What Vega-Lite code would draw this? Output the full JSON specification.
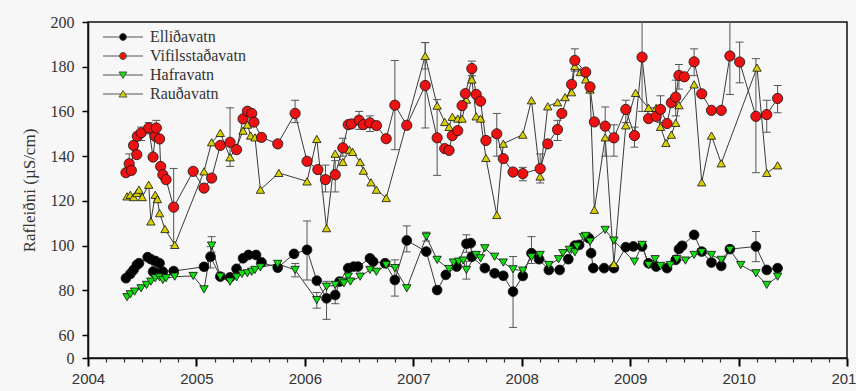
{
  "$schema": "https://vega.github.io/schema/vega-lite/v6.json",
  "width": 759,
  "height": 336,
  "autosize": {"type": "none"},
  "padding": {"left": 88, "top": 22, "right": 9, "bottom": 33},
  "background": "#f7f7f7",
  "config": {
    "view": {"stroke": "#111", "strokeWidth": 1.5},
    "axis": {"grid": false, "ticks": true, "domainColor": "#111", "domainWidth": 1.5, "tickColor": "#000", "tickWidth": 1.5, "tickOpacity": 1, "zindex": 1}
  },
  "datasets": {
    "main": [
      {"lake": "Elliðavatn", "t": 2004.35, "v": 85.4},
      {"lake": "Elliðavatn", "t": 2004.39, "v": 87.3},
      {"lake": "Elliðavatn", "t": 2004.42, "v": 89.1},
      {"lake": "Elliðavatn", "t": 2004.45, "v": 91.3},
      {"lake": "Elliðavatn", "t": 2004.47, "v": 92.1},
      {"lake": "Elliðavatn", "t": 2004.55, "v": 94.8},
      {"lake": "Elliðavatn", "t": 2004.58, "v": 93.9},
      {"lake": "Elliðavatn", "t": 2004.60, "v": 88.3},
      {"lake": "Elliðavatn", "t": 2004.62, "v": 93.1},
      {"lake": "Elliðavatn", "t": 2004.63, "v": 87.6},
      {"lake": "Elliðavatn", "t": 2004.66, "v": 92.1},
      {"lake": "Elliðavatn", "t": 2004.69, "v": 88.3},
      {"lake": "Elliðavatn", "t": 2004.79, "v": 88.6},
      {"lake": "Elliðavatn", "t": 2005.07, "v": 90.5},
      {"lake": "Elliðavatn", "t": 2005.13, "v": 95.0, "lo": 90, "hi": 99.5},
      {"lake": "Elliðavatn", "t": 2005.22, "v": 86.1},
      {"lake": "Elliðavatn", "t": 2005.31, "v": 85.8},
      {"lake": "Elliðavatn", "t": 2005.37, "v": 89.6},
      {"lake": "Elliðavatn", "t": 2005.43, "v": 94.3},
      {"lake": "Elliðavatn", "t": 2005.48, "v": 95.8},
      {"lake": "Elliðavatn", "t": 2005.55, "v": 95.8},
      {"lake": "Elliðavatn", "t": 2005.60, "v": 92.5},
      {"lake": "Elliðavatn", "t": 2005.75, "v": 90.1},
      {"lake": "Elliðavatn", "t": 2005.90, "v": 96.3},
      {"lake": "Elliðavatn", "t": 2006.02, "v": 98.1, "lo": 84.6, "hi": 111},
      {"lake": "Elliðavatn", "t": 2006.11, "v": 84.3},
      {"lake": "Elliðavatn", "t": 2006.20, "v": 76.4, "lo": 67, "hi": 84},
      {"lake": "Elliðavatn", "t": 2006.28, "v": 77.9, "lo": 74, "hi": 82},
      {"lake": "Elliðavatn", "t": 2006.32, "v": 83.9},
      {"lake": "Elliðavatn", "t": 2006.40, "v": 89.9},
      {"lake": "Elliðavatn", "t": 2006.45, "v": 90.6},
      {"lake": "Elliðavatn", "t": 2006.49, "v": 90.6},
      {"lake": "Elliðavatn", "t": 2006.60, "v": 94.3},
      {"lake": "Elliðavatn", "t": 2006.63, "v": 92.8},
      {"lake": "Elliðavatn", "t": 2006.74, "v": 92.1},
      {"lake": "Elliðavatn", "t": 2006.83, "v": 84.6, "lo": 77.4, "hi": 93.6},
      {"lake": "Elliðavatn", "t": 2006.94, "v": 102.3, "lo": 97.2, "hi": 108.8},
      {"lake": "Elliðavatn", "t": 2007.12, "v": 97.3},
      {"lake": "Elliðavatn", "t": 2007.22, "v": 80.1},
      {"lake": "Elliðavatn", "t": 2007.30, "v": 86.9},
      {"lake": "Elliðavatn", "t": 2007.40, "v": 90.6},
      {"lake": "Elliðavatn", "t": 2007.49, "v": 100.8, "lo": 97, "hi": 104.8},
      {"lake": "Elliðavatn", "t": 2007.53, "v": 101.1},
      {"lake": "Elliðavatn", "t": 2007.54, "v": 95.0},
      {"lake": "Elliðavatn", "t": 2007.66, "v": 89.9},
      {"lake": "Elliðavatn", "t": 2007.75, "v": 87.6},
      {"lake": "Elliðavatn", "t": 2007.83, "v": 86.5},
      {"lake": "Elliðavatn", "t": 2007.92, "v": 79.4, "lo": 63.4, "hi": 95.1},
      {"lake": "Elliðavatn", "t": 2008.01, "v": 86.4},
      {"lake": "Elliðavatn", "t": 2008.09, "v": 96.6, "lo": 92, "hi": 104},
      {"lake": "Elliðavatn", "t": 2008.16, "v": 93.9},
      {"lake": "Elliðavatn", "t": 2008.25, "v": 89.1},
      {"lake": "Elliðavatn", "t": 2008.35, "v": 89.1},
      {"lake": "Elliðavatn", "t": 2008.43, "v": 93.9},
      {"lake": "Elliðavatn", "t": 2008.49, "v": 100.0},
      {"lake": "Elliðavatn", "t": 2008.53, "v": 100.3},
      {"lake": "Elliðavatn", "t": 2008.62, "v": 103.3},
      {"lake": "Elliðavatn", "t": 2008.64, "v": 96.6},
      {"lake": "Elliðavatn", "t": 2008.66, "v": 89.9},
      {"lake": "Elliðavatn", "t": 2008.76, "v": 89.9},
      {"lake": "Elliðavatn", "t": 2008.85, "v": 89.9},
      {"lake": "Elliðavatn", "t": 2008.96, "v": 99.3},
      {"lake": "Elliðavatn", "t": 2009.03, "v": 99.6},
      {"lake": "Elliðavatn", "t": 2009.11, "v": 99.6},
      {"lake": "Elliðavatn", "t": 2009.17, "v": 92.1},
      {"lake": "Elliðavatn", "t": 2009.24, "v": 90.6},
      {"lake": "Elliðavatn", "t": 2009.34, "v": 89.9},
      {"lake": "Elliðavatn", "t": 2009.42, "v": 93.6},
      {"lake": "Elliðavatn", "t": 2009.45, "v": 98.4},
      {"lake": "Elliðavatn", "t": 2009.48, "v": 99.9},
      {"lake": "Elliðavatn", "t": 2009.59, "v": 104.8},
      {"lake": "Elliðavatn", "t": 2009.66, "v": 97.3},
      {"lake": "Elliðavatn", "t": 2009.75, "v": 92.4},
      {"lake": "Elliðavatn", "t": 2009.84, "v": 90.9},
      {"lake": "Elliðavatn", "t": 2009.92, "v": 98.4},
      {"lake": "Elliðavatn", "t": 2010.16, "v": 99.6, "lo": 92.8, "hi": 106.3},
      {"lake": "Elliðavatn", "t": 2010.26, "v": 89.1},
      {"lake": "Elliðavatn", "t": 2010.36, "v": 89.9},

      {"lake": "Rauðavatn", "t": 2004.36, "v": 122.0},
      {"lake": "Rauðavatn", "t": 2004.39, "v": 122.7},
      {"lake": "Rauðavatn", "t": 2004.42, "v": 121.7},
      {"lake": "Rauðavatn", "t": 2004.45, "v": 123.5},
      {"lake": "Rauðavatn", "t": 2004.47, "v": 125.0},
      {"lake": "Rauðavatn", "t": 2004.50, "v": 121.7},
      {"lake": "Rauðavatn", "t": 2004.56, "v": 127.2},
      {"lake": "Rauðavatn", "t": 2004.58, "v": 110.8},
      {"lake": "Rauðavatn", "t": 2004.62, "v": 122.7},
      {"lake": "Rauðavatn", "t": 2004.64, "v": 120.8},
      {"lake": "Rauðavatn", "t": 2004.66, "v": 114.5},
      {"lake": "Rauðavatn", "t": 2004.71, "v": 107.4},
      {"lake": "Rauðavatn", "t": 2004.80, "v": 100.3},
      {"lake": "Rauðavatn", "t": 2005.07, "v": 133.2},
      {"lake": "Rauðavatn", "t": 2005.14, "v": 146.2},
      {"lake": "Rauðavatn", "t": 2005.22, "v": 150.4},
      {"lake": "Rauðavatn", "t": 2005.31, "v": 139.5},
      {"lake": "Rauðavatn", "t": 2005.37, "v": 143.9},
      {"lake": "Rauðavatn", "t": 2005.43, "v": 151.4},
      {"lake": "Rauðavatn", "t": 2005.47, "v": 154.1},
      {"lake": "Rauðavatn", "t": 2005.50, "v": 149.2},
      {"lake": "Rauðavatn", "t": 2005.54, "v": 148.4},
      {"lake": "Rauðavatn", "t": 2005.59, "v": 125.0},
      {"lake": "Rauðavatn", "t": 2005.76, "v": 132.5},
      {"lake": "Rauðavatn", "t": 2006.02, "v": 128.7},
      {"lake": "Rauðavatn", "t": 2006.11, "v": 147.7},
      {"lake": "Rauðavatn", "t": 2006.20, "v": 107.8},
      {"lake": "Rauðavatn", "t": 2006.28, "v": 141.1},
      {"lake": "Rauðavatn", "t": 2006.35, "v": 137.4},
      {"lake": "Rauðavatn", "t": 2006.41, "v": 142.9},
      {"lake": "Rauðavatn", "t": 2006.44, "v": 141.9},
      {"lake": "Rauðavatn", "t": 2006.51, "v": 137.4},
      {"lake": "Rauðavatn", "t": 2006.54, "v": 133.5},
      {"lake": "Rauðavatn", "t": 2006.61, "v": 128.3},
      {"lake": "Rauðavatn", "t": 2006.66, "v": 125.0},
      {"lake": "Rauðavatn", "t": 2006.75, "v": 121.3},
      {"lake": "Rauðavatn", "t": 2007.11, "v": 184.8, "lo": 179, "hi": 190.8},
      {"lake": "Rauðavatn", "t": 2007.22, "v": 162.6},
      {"lake": "Rauðavatn", "t": 2007.29, "v": 155.3},
      {"lake": "Rauðavatn", "t": 2007.33, "v": 153.1},
      {"lake": "Rauðavatn", "t": 2007.36, "v": 157.6},
      {"lake": "Rauðavatn", "t": 2007.41, "v": 156.8},
      {"lake": "Rauðavatn", "t": 2007.45, "v": 156.8},
      {"lake": "Rauðavatn", "t": 2007.49, "v": 165.3},
      {"lake": "Rauðavatn", "t": 2007.54, "v": 174.3},
      {"lake": "Rauðavatn", "t": 2007.58, "v": 157.8},
      {"lake": "Rauðavatn", "t": 2007.62, "v": 156.8},
      {"lake": "Rauðavatn", "t": 2007.67, "v": 139.2},
      {"lake": "Rauðavatn", "t": 2007.77, "v": 113.7},
      {"lake": "Rauðavatn", "t": 2007.83, "v": 145.6},
      {"lake": "Rauðavatn", "t": 2008.01, "v": 149.6},
      {"lake": "Rauðavatn", "t": 2008.09, "v": 165.0},
      {"lake": "Rauðavatn", "t": 2008.17, "v": 130.9},
      {"lake": "Rauðavatn", "t": 2008.24, "v": 162.3},
      {"lake": "Rauðavatn", "t": 2008.33, "v": 164.1},
      {"lake": "Rauðavatn", "t": 2008.40, "v": 166.4},
      {"lake": "Rauðavatn", "t": 2008.46, "v": 168.6},
      {"lake": "Rauðavatn", "t": 2008.49, "v": 180.3},
      {"lake": "Rauðavatn", "t": 2008.54, "v": 177.6},
      {"lake": "Rauðavatn", "t": 2008.59, "v": 174.3},
      {"lake": "Rauðavatn", "t": 2008.63, "v": 169.8},
      {"lake": "Rauðavatn", "t": 2008.67, "v": 116.0},
      {"lake": "Rauðavatn", "t": 2008.77, "v": 148.4},
      {"lake": "Rauðavatn", "t": 2008.85, "v": 91.8},
      {"lake": "Rauðavatn", "t": 2008.96, "v": 153.8},
      {"lake": "Rauðavatn", "t": 2009.05, "v": 168.3},
      {"lake": "Rauðavatn", "t": 2009.17, "v": 161.6},
      {"lake": "Rauðavatn", "t": 2009.24, "v": 161.6},
      {"lake": "Rauðavatn", "t": 2009.28, "v": 153.1},
      {"lake": "Rauðavatn", "t": 2009.33, "v": 145.9},
      {"lake": "Rauðavatn", "t": 2009.38, "v": 149.6},
      {"lake": "Rauðavatn", "t": 2009.42, "v": 154.9},
      {"lake": "Rauðavatn", "t": 2009.45, "v": 162.8},
      {"lake": "Rauðavatn", "t": 2009.59, "v": 172.1},
      {"lake": "Rauðavatn", "t": 2009.66, "v": 128.3},
      {"lake": "Rauðavatn", "t": 2009.75, "v": 149.2},
      {"lake": "Rauðavatn", "t": 2009.84, "v": 136.8},
      {"lake": "Rauðavatn", "t": 2010.17, "v": 179.6},
      {"lake": "Rauðavatn", "t": 2010.26, "v": 132.5},
      {"lake": "Rauðavatn", "t": 2010.36, "v": 135.9},

      {"lake": "Hafravatn", "t": 2004.36, "v": 76.9},
      {"lake": "Hafravatn", "t": 2004.39, "v": 78.2},
      {"lake": "Hafravatn", "t": 2004.43, "v": 79.4},
      {"lake": "Hafravatn", "t": 2004.49, "v": 80.9},
      {"lake": "Hafravatn", "t": 2004.54, "v": 82.4},
      {"lake": "Hafravatn", "t": 2004.58, "v": 83.9},
      {"lake": "Hafravatn", "t": 2004.62, "v": 85.4},
      {"lake": "Hafravatn", "t": 2004.66, "v": 85.8},
      {"lake": "Hafravatn", "t": 2004.69, "v": 84.6},
      {"lake": "Hafravatn", "t": 2004.72, "v": 85.4},
      {"lake": "Hafravatn", "t": 2004.80, "v": 86.1},
      {"lake": "Hafravatn", "t": 2004.97, "v": 86.4},
      {"lake": "Hafravatn", "t": 2005.07, "v": 80.4},
      {"lake": "Hafravatn", "t": 2005.14, "v": 100.0, "lo": 97, "hi": 104},
      {"lake": "Hafravatn", "t": 2005.22, "v": 86.1},
      {"lake": "Hafravatn", "t": 2005.31, "v": 83.9},
      {"lake": "Hafravatn", "t": 2005.37, "v": 85.8},
      {"lake": "Hafravatn", "t": 2005.42, "v": 87.3},
      {"lake": "Hafravatn", "t": 2005.47, "v": 87.6},
      {"lake": "Hafravatn", "t": 2005.51, "v": 88.3},
      {"lake": "Hafravatn", "t": 2005.54, "v": 89.1},
      {"lake": "Hafravatn", "t": 2005.59, "v": 90.3},
      {"lake": "Hafravatn", "t": 2005.75, "v": 91.8},
      {"lake": "Hafravatn", "t": 2005.91, "v": 89.1, "lo": 86, "hi": 92},
      {"lake": "Hafravatn", "t": 2006.11, "v": 75.6, "lo": 72, "hi": 79},
      {"lake": "Hafravatn", "t": 2006.20, "v": 81.6},
      {"lake": "Hafravatn", "t": 2006.28, "v": 82.4},
      {"lake": "Hafravatn", "t": 2006.34, "v": 83.9},
      {"lake": "Hafravatn", "t": 2006.36, "v": 83.1},
      {"lake": "Hafravatn", "t": 2006.40, "v": 86.1},
      {"lake": "Hafravatn", "t": 2006.42, "v": 83.9},
      {"lake": "Hafravatn", "t": 2006.51, "v": 86.1},
      {"lake": "Hafravatn", "t": 2006.60, "v": 89.1},
      {"lake": "Hafravatn", "t": 2006.66, "v": 88.3},
      {"lake": "Hafravatn", "t": 2006.75, "v": 91.3},
      {"lake": "Hafravatn", "t": 2006.83, "v": 89.9},
      {"lake": "Hafravatn", "t": 2006.94, "v": 80.9},
      {"lake": "Hafravatn", "t": 2007.12, "v": 104.0, "lo": 102, "hi": 106},
      {"lake": "Hafravatn", "t": 2007.22, "v": 93.6},
      {"lake": "Hafravatn", "t": 2007.33, "v": 89.5},
      {"lake": "Hafravatn", "t": 2007.37, "v": 92.4},
      {"lake": "Hafravatn", "t": 2007.42, "v": 92.8},
      {"lake": "Hafravatn", "t": 2007.46, "v": 93.3},
      {"lake": "Hafravatn", "t": 2007.49, "v": 89.1, "lo": 85, "hi": 93},
      {"lake": "Hafravatn", "t": 2007.58, "v": 95.8},
      {"lake": "Hafravatn", "t": 2007.62, "v": 94.3},
      {"lake": "Hafravatn", "t": 2007.66, "v": 98.8},
      {"lake": "Hafravatn", "t": 2007.75, "v": 95.0},
      {"lake": "Hafravatn", "t": 2007.83, "v": 92.4},
      {"lake": "Hafravatn", "t": 2007.92, "v": 89.4},
      {"lake": "Hafravatn", "t": 2008.01, "v": 88.8},
      {"lake": "Hafravatn", "t": 2008.09, "v": 94.8},
      {"lake": "Hafravatn", "t": 2008.17, "v": 95.8},
      {"lake": "Hafravatn", "t": 2008.25, "v": 91.3},
      {"lake": "Hafravatn", "t": 2008.34, "v": 93.9},
      {"lake": "Hafravatn", "t": 2008.38, "v": 96.6},
      {"lake": "Hafravatn", "t": 2008.44, "v": 98.1},
      {"lake": "Hafravatn", "t": 2008.49, "v": 97.0},
      {"lake": "Hafravatn", "t": 2008.51, "v": 99.6},
      {"lake": "Hafravatn", "t": 2008.57, "v": 103.8},
      {"lake": "Hafravatn", "t": 2008.59, "v": 104.3},
      {"lake": "Hafravatn", "t": 2008.63, "v": 101.8},
      {"lake": "Hafravatn", "t": 2008.77, "v": 107.0},
      {"lake": "Hafravatn", "t": 2008.85, "v": 102.2},
      {"lake": "Hafravatn", "t": 2009.04, "v": 92.8},
      {"lake": "Hafravatn", "t": 2009.11, "v": 100.3},
      {"lake": "Hafravatn", "t": 2009.17, "v": 91.3},
      {"lake": "Hafravatn", "t": 2009.23, "v": 93.9},
      {"lake": "Hafravatn", "t": 2009.28, "v": 90.9},
      {"lake": "Hafravatn", "t": 2009.37, "v": 91.3},
      {"lake": "Hafravatn", "t": 2009.43, "v": 93.9},
      {"lake": "Hafravatn", "t": 2009.51, "v": 93.3},
      {"lake": "Hafravatn", "t": 2009.59, "v": 95.8},
      {"lake": "Hafravatn", "t": 2009.66, "v": 97.0},
      {"lake": "Hafravatn", "t": 2009.75, "v": 95.8},
      {"lake": "Hafravatn", "t": 2009.84, "v": 93.6},
      {"lake": "Hafravatn", "t": 2009.92, "v": 98.1},
      {"lake": "Hafravatn", "t": 2010.02, "v": 91.3},
      {"lake": "Hafravatn", "t": 2010.16, "v": 87.6},
      {"lake": "Hafravatn", "t": 2010.26, "v": 82.4},
      {"lake": "Hafravatn", "t": 2010.36, "v": 86.1},

      {"lake": "Vifilsstaðavatn", "t": 2004.35, "v": 132.6},
      {"lake": "Vifilsstaðavatn", "t": 2004.38, "v": 136.6, "lo": 133, "hi": 141},
      {"lake": "Vifilsstaðavatn", "t": 2004.40, "v": 133.6},
      {"lake": "Vifilsstaðavatn", "t": 2004.42, "v": 144.8},
      {"lake": "Vifilsstaðavatn", "t": 2004.45, "v": 140.7},
      {"lake": "Vifilsstaðavatn", "t": 2004.455, "v": 148.9},
      {"lake": "Vifilsstaðavatn", "t": 2004.49, "v": 150.4, "lo": 147, "hi": 153},
      {"lake": "Vifilsstaðavatn", "t": 2004.56, "v": 152.6, "lo": 150, "hi": 155},
      {"lake": "Vifilsstaðavatn", "t": 2004.60, "v": 139.6},
      {"lake": "Vifilsstaðavatn", "t": 2004.62, "v": 148.9},
      {"lake": "Vifilsstaðavatn", "t": 2004.63, "v": 152.6, "lo": 149, "hi": 156},
      {"lake": "Vifilsstaðavatn", "t": 2004.66, "v": 147.7},
      {"lake": "Vifilsstaðavatn", "t": 2004.67, "v": 135.4},
      {"lake": "Vifilsstaðavatn", "t": 2004.69, "v": 131.7},
      {"lake": "Vifilsstaðavatn", "t": 2004.72, "v": 129.5},
      {"lake": "Vifilsstaðavatn", "t": 2004.79, "v": 117.2, "lo": 100, "hi": 134.5},
      {"lake": "Vifilsstaðavatn", "t": 2004.97, "v": 133.2},
      {"lake": "Vifilsstaðavatn", "t": 2005.07, "v": 125.7},
      {"lake": "Vifilsstaðavatn", "t": 2005.14, "v": 130.2},
      {"lake": "Vifilsstaðavatn", "t": 2005.22, "v": 144.8},
      {"lake": "Vifilsstaðavatn", "t": 2005.31, "v": 146.2, "lo": 135.4, "hi": 161.6},
      {"lake": "Vifilsstaðavatn", "t": 2005.37, "v": 142.9},
      {"lake": "Vifilsstaðavatn", "t": 2005.43, "v": 156.7},
      {"lake": "Vifilsstaðavatn", "t": 2005.47, "v": 160.1},
      {"lake": "Vifilsstaðavatn", "t": 2005.51, "v": 159.1},
      {"lake": "Vifilsstaðavatn", "t": 2005.53, "v": 155.2},
      {"lake": "Vifilsstaðavatn", "t": 2005.60, "v": 148.4},
      {"lake": "Vifilsstaðavatn", "t": 2005.75, "v": 145.5},
      {"lake": "Vifilsstaðavatn", "t": 2005.91, "v": 159.1, "lo": 155, "hi": 165},
      {"lake": "Vifilsstaðavatn", "t": 2006.02, "v": 137.7},
      {"lake": "Vifilsstaðavatn", "t": 2006.12, "v": 134.0},
      {"lake": "Vifilsstaðavatn", "t": 2006.19, "v": 129.5, "lo": 124, "hi": 136},
      {"lake": "Vifilsstaðavatn", "t": 2006.28, "v": 131.7, "lo": 124, "hi": 138},
      {"lake": "Vifilsstaðavatn", "t": 2006.35, "v": 143.7, "lo": 140, "hi": 148},
      {"lake": "Vifilsstaðavatn", "t": 2006.40, "v": 154.1},
      {"lake": "Vifilsstaðavatn", "t": 2006.43, "v": 154.4},
      {"lake": "Vifilsstaðavatn", "t": 2006.50, "v": 156.1, "lo": 152, "hi": 160},
      {"lake": "Vifilsstaðavatn", "t": 2006.54, "v": 154.1},
      {"lake": "Vifilsstaðavatn", "t": 2006.60, "v": 154.9, "lo": 151, "hi": 158},
      {"lake": "Vifilsstaðavatn", "t": 2006.66, "v": 153.7},
      {"lake": "Vifilsstaðavatn", "t": 2006.75, "v": 147.8},
      {"lake": "Vifilsstaðavatn", "t": 2006.83, "v": 162.8, "lo": 142.9, "hi": 182.8},
      {"lake": "Vifilsstaðavatn", "t": 2006.94, "v": 153.8},
      {"lake": "Vifilsstaðavatn", "t": 2007.11, "v": 171.6, "lo": 152.6, "hi": 190.8},
      {"lake": "Vifilsstaðavatn", "t": 2007.22, "v": 148.2, "lo": 131.4, "hi": 165.3},
      {"lake": "Vifilsstaðavatn", "t": 2007.29, "v": 143.4},
      {"lake": "Vifilsstaðavatn", "t": 2007.33, "v": 142.6},
      {"lake": "Vifilsstaðavatn", "t": 2007.36, "v": 149.2},
      {"lake": "Vifilsstaðavatn", "t": 2007.41, "v": 151.4},
      {"lake": "Vifilsstaðavatn", "t": 2007.45, "v": 162.6},
      {"lake": "Vifilsstaðavatn", "t": 2007.48, "v": 168.0},
      {"lake": "Vifilsstaðavatn", "t": 2007.54, "v": 179.2, "lo": 176, "hi": 182.5},
      {"lake": "Vifilsstaðavatn", "t": 2007.58, "v": 167.6},
      {"lake": "Vifilsstaðavatn", "t": 2007.62, "v": 164.6},
      {"lake": "Vifilsstaðavatn", "t": 2007.67, "v": 147.0},
      {"lake": "Vifilsstaðavatn", "t": 2007.77, "v": 150.0, "lo": 140, "hi": 159.1},
      {"lake": "Vifilsstaðavatn", "t": 2007.83, "v": 138.9},
      {"lake": "Vifilsstaðavatn", "t": 2007.92, "v": 132.9},
      {"lake": "Vifilsstaðavatn", "t": 2008.01, "v": 132.2, "lo": 129, "hi": 135},
      {"lake": "Vifilsstaðavatn", "t": 2008.17, "v": 134.4, "lo": 128, "hi": 141},
      {"lake": "Vifilsstaðavatn", "t": 2008.24, "v": 145.5},
      {"lake": "Vifilsstaðavatn", "t": 2008.33, "v": 151.9, "lo": 147, "hi": 156},
      {"lake": "Vifilsstaðavatn", "t": 2008.37, "v": 159.1},
      {"lake": "Vifilsstaðavatn", "t": 2008.46, "v": 172.1},
      {"lake": "Vifilsstaðavatn", "t": 2008.49, "v": 182.8, "lo": 178, "hi": 188},
      {"lake": "Vifilsstaðavatn", "t": 2008.59, "v": 177.6},
      {"lake": "Vifilsstaðavatn", "t": 2008.63, "v": 171.0},
      {"lake": "Vifilsstaðavatn", "t": 2008.67, "v": 155.3},
      {"lake": "Vifilsstaðavatn", "t": 2008.77, "v": 153.4, "lo": 140, "hi": 162},
      {"lake": "Vifilsstaðavatn", "t": 2008.85, "v": 148.2, "lo": 140, "hi": 154},
      {"lake": "Vifilsstaðavatn", "t": 2008.96, "v": 160.9, "lo": 155, "hi": 165},
      {"lake": "Vifilsstaðavatn", "t": 2009.04, "v": 149.2, "lo": 144, "hi": 153},
      {"lake": "Vifilsstaðavatn", "t": 2009.11, "v": 184.3, "lo": 160, "hi": 205},
      {"lake": "Vifilsstaðavatn", "t": 2009.17, "v": 156.8},
      {"lake": "Vifilsstaðavatn", "t": 2009.24, "v": 157.8},
      {"lake": "Vifilsstaðavatn", "t": 2009.28, "v": 160.9, "lo": 155, "hi": 167},
      {"lake": "Vifilsstaðavatn", "t": 2009.34, "v": 154.6},
      {"lake": "Vifilsstaðavatn", "t": 2009.38, "v": 163.9},
      {"lake": "Vifilsstaðavatn", "t": 2009.42, "v": 166.4, "lo": 158, "hi": 174},
      {"lake": "Vifilsstaðavatn", "t": 2009.45, "v": 176.1, "lo": 170, "hi": 181},
      {"lake": "Vifilsstaðavatn", "t": 2009.50, "v": 175.5},
      {"lake": "Vifilsstaðavatn", "t": 2009.59, "v": 182.2, "lo": 176, "hi": 188},
      {"lake": "Vifilsstaðavatn", "t": 2009.66, "v": 167.9},
      {"lake": "Vifilsstaðavatn", "t": 2009.75, "v": 160.5},
      {"lake": "Vifilsstaðavatn", "t": 2009.84, "v": 160.5},
      {"lake": "Vifilsstaðavatn", "t": 2009.92, "v": 184.8, "lo": 167.6, "hi": 205},
      {"lake": "Vifilsstaðavatn", "t": 2010.01, "v": 182.1, "lo": 172.8, "hi": 191},
      {"lake": "Vifilsstaðavatn", "t": 2010.16, "v": 157.8, "lo": 132.6, "hi": 183.6},
      {"lake": "Vifilsstaðavatn", "t": 2010.26, "v": 158.6, "lo": 150.7, "hi": 165},
      {"lake": "Vifilsstaðavatn", "t": 2010.36, "v": 165.8, "lo": 159.4, "hi": 171.6}
    ],
    "leg": [
      {"lake": "Elliðavatn", "t": 2005, "v": -50},
      {"lake": "Vifilsstaðavatn", "t": 2005, "v": -50},
      {"lake": "Hafravatn", "t": 2005, "v": -50},
      {"lake": "Rauðavatn", "t": 2005, "v": -50}
    ]
  },
  "layer": [
    {
      "data": {"name": "main"},
      "mark": {"type": "line", "color": "#3a3a3a", "strokeWidth": 1},
      "encoding": {
        "x": {
          "field": "t", "type": "quantitative",
          "scale": {"domain": [2004, 2011], "nice": false, "zero": false},
          "axis": {
            "title": null,
            "orient": "bottom",
            "values": [2004, 2005, 2006, 2007, 2008, 2009, 2010, 2011],
            "format": "d",
            "ticks": true,
            "tickSize": 8,
            "tickWidth": 2,
            "tickColor": "#000",
            "zindex": 1,
            "labelOverlap": false,
            "labelFlush": false,
            "labelBound": false,
            "labelFont": "Liberation Sans",
            "labelFontSize": 15,
            "labelColor": "#333",
            "labelPadding": 5
          }
        },
        "y": {
          "field": "v", "type": "quantitative",
          "scale": {"domain": [0, 60, 200], "range": [336, 313, 0], "nice": false, "zero": false},
          "axis": {
            "title": "Rafleiðni (µS/cm)",
            "values": [0, 60, 80, 100, 120, 140, 160, 180, 200],
            "ticks": true,
            "tickSize": 6,
            "tickWidth": 1.5,
            "tickColor": "#000",
            "zindex": 1,
            "labelPadding": 8,
            "labelFont": "Liberation Serif",
            "labelFontSize": 16,
            "labelColor": "#333",
            "titleFont": "Liberation Serif",
            "titleFontSize": 17,
            "titleFontWeight": "normal",
            "titleColor": "#333",
            "titlePadding": 12
          }
        },
        "detail": {"field": "lake"}
      }
    },
    {
      "data": {"name": "main"},
      "transform": [{"filter": "isValid(datum.lo)"}],
      "mark": {"type": "rule", "color": "#555", "strokeWidth": 1, "clip": true},
      "encoding": {
        "x": {"field": "t", "type": "quantitative", "axis": null, "scale": {"domain": [2004, 2011], "nice": false, "zero": false}},
        "y": {"field": "lo", "type": "quantitative", "scale": {"domain": [0, 60, 200], "range": [336, 313, 0], "nice": false, "zero": false}},
        "y2": {"field": "hi"}
      }
    },
    {
      "data": {"name": "main"},
      "transform": [{"filter": "isValid(datum.lo)"}],
      "mark": {"type": "tick", "color": "#555", "orient": "horizontal", "size": 8, "thickness": 1, "opacity": 1, "clip": true},
      "encoding": {
        "x": {"field": "t", "type": "quantitative", "axis": null, "scale": {"domain": [2004, 2011], "nice": false, "zero": false}},
        "y": {"field": "lo", "type": "quantitative", "scale": {"domain": [0, 60, 200], "range": [336, 313, 0], "nice": false, "zero": false}}
      }
    },
    {
      "data": {"name": "main"},
      "transform": [{"filter": "isValid(datum.hi)"}],
      "mark": {"type": "tick", "color": "#555", "orient": "horizontal", "size": 8, "thickness": 1, "opacity": 1, "clip": true},
      "encoding": {
        "x": {"field": "t", "type": "quantitative", "axis": null, "scale": {"domain": [2004, 2011], "nice": false, "zero": false}},
        "y": {"field": "hi", "type": "quantitative", "scale": {"domain": [0, 60, 200], "range": [336, 313, 0], "nice": false, "zero": false}}
      }
    },
    {
      "data": {"name": "main"},
      "transform": [{"filter": "datum.lake == 'Elliðavatn'"}],
      "mark": {"type": "point", "shape": "circle", "filled": true, "opacity": 1, "fill": "#000000", "stroke": "#111", "strokeWidth": 0.8, "size": 95},
      "encoding": {
        "x": {"field": "t", "type": "quantitative", "axis": null, "scale": {"domain": [2004, 2011], "nice": false, "zero": false}},
        "y": {"field": "v", "type": "quantitative", "scale": {"domain": [0, 60, 200], "range": [336, 313, 0], "nice": false, "zero": false}}
      }
    },
    {
      "data": {"name": "main"},
      "transform": [{"filter": "datum.lake == 'Rauðavatn'"}],
      "mark": {"type": "point", "shape": "triangle-up", "filled": true, "opacity": 1, "fill": "#d8d000", "stroke": "#111", "strokeWidth": 0.8, "size": 70},
      "encoding": {
        "x": {"field": "t", "type": "quantitative", "axis": null, "scale": {"domain": [2004, 2011], "nice": false, "zero": false}},
        "y": {"field": "v", "type": "quantitative", "scale": {"domain": [0, 60, 200], "range": [336, 313, 0], "nice": false, "zero": false}}
      }
    },
    {
      "data": {"name": "main"},
      "transform": [{"filter": "datum.lake == 'Hafravatn'"}],
      "mark": {"type": "point", "shape": "triangle-down", "filled": true, "opacity": 1, "fill": "#11dd11", "stroke": "#111", "strokeWidth": 0.8, "size": 70},
      "encoding": {
        "x": {"field": "t", "type": "quantitative", "axis": null, "scale": {"domain": [2004, 2011], "nice": false, "zero": false}},
        "y": {"field": "v", "type": "quantitative", "scale": {"domain": [0, 60, 200], "range": [336, 313, 0], "nice": false, "zero": false}}
      }
    },
    {
      "data": {"name": "main"},
      "transform": [{"filter": "datum.lake == 'Vifilsstaðavatn'"}],
      "mark": {"type": "point", "shape": "circle", "filled": true, "opacity": 1, "fill": "#ee1111", "stroke": "#111", "strokeWidth": 0.8, "size": 105},
      "encoding": {
        "x": {"field": "t", "type": "quantitative", "axis": null, "scale": {"domain": [2004, 2011], "nice": false, "zero": false}},
        "y": {"field": "v", "type": "quantitative", "scale": {"domain": [0, 60, 200], "range": [336, 313, 0], "nice": false, "zero": false}}
      }
    },
    {
      "data": {"name": "leg"},
      "mark": {"type": "point", "filled": true, "opacity": 1, "strokeWidth": 1, "size": 100, "clip": true},
      "encoding": {
        "x": {
          "field": "t", "type": "quantitative",
          "scale": {"domain": [2004, 2011], "nice": false, "zero": false},
          "axis": {
            "title": null,
            "orient": "bottom",
            "offset": 0,
            "domain": false,
            "labels": false,
            "ticks": true,
            "tickSize": 4,
            "tickWidth": 1.2,
            "tickColor": "#333",
            "zindex": 1,
            "values": [2004.1667, 2004.3333, 2004.5, 2004.6667, 2004.8333,
                       2005.1667, 2005.3333, 2005.5, 2005.6667, 2005.8333,
                       2006.1667, 2006.3333, 2006.5, 2006.6667, 2006.8333,
                       2007.1667, 2007.3333, 2007.5, 2007.6667, 2007.8333,
                       2008.1667, 2008.3333, 2008.5, 2008.6667, 2008.8333,
                       2009.1667, 2009.3333, 2009.5, 2009.6667, 2009.8333,
                       2010.1667, 2010.3333, 2010.5, 2010.6667, 2010.8333]
          }
        },
        "y": {"field": "v", "type": "quantitative", "scale": {"domain": [0, 60, 200], "range": [336, 313, 0], "nice": false, "zero": false}},
        "shape": {
          "field": "lake", "type": "nominal",
          "scale": {
            "domain": ["Elliðavatn", "Vifilsstaðavatn", "Hafravatn", "Rauðavatn"],
            "range": [
              "M-4,0L-0.7,0M0.7,0L4,0M0.7,0A0.7,0.7,0,1,1,-0.7,0A0.7,0.7,0,1,1,0.7,0Z",
              "M-4,0L-0.7,0M0.7,0L4,0M0.7,0A0.7,0.7,0,1,1,-0.7,0A0.7,0.7,0,1,1,0.7,0Z",
              "M-4,0L-0.4,0M0.4,0L4,0M-0.8,-0.6L0.8,-0.6L0,0.7Z",
              "M-4,0L-0.4,0M0.4,0L4,0M-0.8,0.6L0.8,0.6L0,-0.7Z"
            ]
          },
          "legend": {
            "title": null, "orient": "none", "legendX": 27, "legendY": 7,
            "symbolSize": 100, "symbolStrokeColor": "#333", "symbolStrokeWidth": 1,
            "labelFont": "Liberation Serif", "labelFontSize": 16, "labelColor": "#333",
            "labelOffset": 19, "rowPadding": 3, "padding": 0
          }
        },
        "fill": {
          "field": "lake", "type": "nominal",
          "scale": {"domain": ["Elliðavatn", "Vifilsstaðavatn", "Hafravatn", "Rauðavatn"], "range": ["#000000", "#ee1111", "#11dd11", "#d8d000"]},
          "legend": {
            "title": null, "orient": "none", "legendX": 27, "legendY": 7,
            "symbolSize": 100, "symbolStrokeColor": "#333", "symbolStrokeWidth": 1,
            "labelFont": "Liberation Serif", "labelFontSize": 16, "labelColor": "#333",
            "labelOffset": 19, "rowPadding": 3, "padding": 0
          }
        },
        "stroke": {
          "field": "lake", "type": "nominal",
          "scale": {"domain": ["Elliðavatn", "Vifilsstaðavatn", "Hafravatn", "Rauðavatn"], "range": ["#555555", "#555555", "#555555", "#555555"]},
          "legend": {
            "title": null, "orient": "none", "legendX": 27, "legendY": 7,
            "symbolSize": 100, "symbolStrokeWidth": 1,
            "labelFont": "Liberation Serif", "labelFontSize": 16, "labelColor": "#333",
            "labelOffset": 19, "rowPadding": 3, "padding": 0
          }
        }
      }
    }
  ],
  "resolve": {"axis": {"x": "independent"}}
}
